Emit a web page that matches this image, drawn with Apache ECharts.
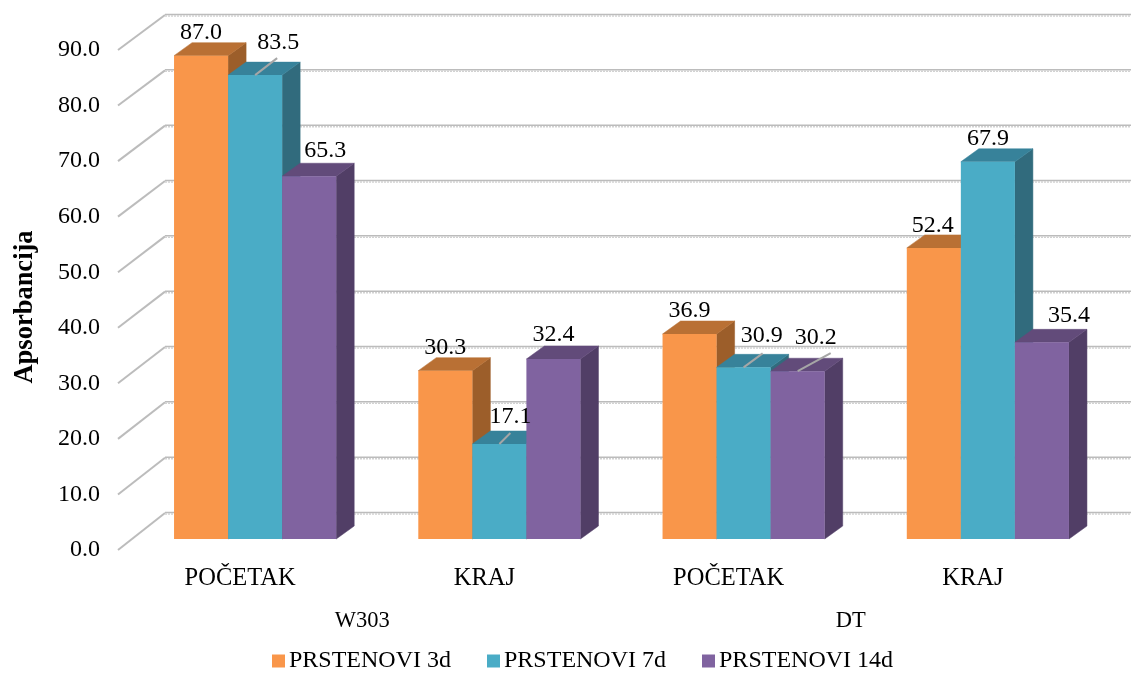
<!DOCTYPE html>
<html><head><meta charset="utf-8">
<style>html,body{margin:0;padding:0;background:#fff}#c{width:1131px;height:673px}</style>
<script src="https://cdn.jsdelivr.net/npm/echarts@6/dist/echarts.min.js"></script>
</head><body><div id="c"></div>
<script>
const categories = ['POČETAK', 'KRAJ', 'POČETAK', 'KRAJ'];
const groups = ['W303', 'DT'];
const seriesNames = ['PRSTENOVI 3d', 'PRSTENOVI 7d', 'PRSTENOVI 14d'];
const values3d = [87.0, 30.3, 36.9, 52.4];
const values7d = [83.5, 17.1, 30.9, 67.9];
const values14d = [65.3, 32.4, 30.2, 35.4];
const ticks = [0, 10, 20, 30, 40, 50, 60, 70, 80, 90];

const FONT = '"Liberation Serif","Times New Roman",serif';
const palette = [
  {front: '#F9964A', top: '#B97034', side: '#9C5E2A'},
  {front: '#4AACC6', top: '#37829A', side: '#316B7D'},
  {front: '#8063A0', top: '#624B7A', side: '#513E66'}
];
const BAR = 0.2213, SHIFT = 15, DX = 18, DY = 13, LIFT = 11;
const WALL_DX = 47, WALL_DY = 37;
// label placement relative to the top-centre of each bar: [dx, dy, leader end dx, leader end dy]
const labelPlace = [
  [[0, -23], [0, -23], [0, -23], [-1, -22]],
  [[23, -32, 22, -17], [11, -27, 11, -11], [18, -32, 19, -14], [0, -23]],
  [[16, -26], [0, -24], [18, -34, 33, -18], [27, -27]]
];

function barGeom(api, s) {
  const p = api.coord([api.value(0), api.value(1)]);
  const base = api.coord([api.value(0), 0]);
  const w = api.size([1, 0])[0] * BAR;
  const x0 = p[0] + SHIFT + (s - 1.5) * w;
  return {x0, x1: x0 + w, y: p[1] - LIFT, b: base[1] - LIFT, w};
}
function barItem(s) {
  return (params, api) => {
    const g = barGeom(api, s), c = palette[s];
    const poly = (pts, fill) => ({type: 'polygon', shape: {points: pts},
      style: {fill, stroke: fill, lineWidth: 0.5}});
    return {type: 'group', children: [
      poly([[g.x1, g.y], [g.x1 + DX, g.y - DY], [g.x1 + DX, g.b - DY], [g.x1, g.b]], c.side),
      poly([[g.x0, g.y], [g.x0 + DX, g.y - DY], [g.x1 + DX, g.y - DY], [g.x1, g.y]], c.top),
      {type: 'rect', shape: {x: g.x0, y: g.y, width: g.w, height: g.b - g.y},
        style: {fill: c.front}}
    ]};
  };
}
function labelItem(s) {
  return (params, api) => {
    const g = barGeom(api, s);
    const place = labelPlace[s][params.dataIndex];
    const cx = g.x0 + g.w / 2, children = [];
    if (place.length > 2) {
      children.push({type: 'line',
        shape: {x1: cx, y1: g.y, x2: cx + place[2], y2: g.y + place[3]},
        style: {stroke: '#a6a6a6', lineWidth: 2}});
    }
    children.push({type: 'text', style: {
      text: api.value(1).toFixed(1), x: cx + place[0], y: g.y + place[1],
      align: 'center', verticalAlign: 'middle', fill: '#000',
      font: '24px ' + FONT}});
    return {type: 'group', children};
  };
}
function gridItem(params, api) {
  const v = api.value(0);
  const front = api.coord([0, v]);
  const cs = params.coordSys;
  const fx = cs.x, fy = front[1];
  const bx = fx + WALL_DX, by = front[1] - WALL_DY + 2 * v / 90;
  return {type: 'group', children: [
    {type: 'line', shape: {x1: fx, y1: fy, x2: bx, y2: by},
      style: {stroke: '#bcbcbc', lineWidth: 2}},
    {type: 'line', shape: {x1: bx, y1: by - 0.5, x2: 1131, y2: by - 0.5},
      style: {stroke: '#bcbcbc', lineWidth: 1.5}},
    {type: 'line', shape: {x1: bx, y1: by + 1, x2: 1131, y2: by + 1},
      style: {stroke: '#d2d2d2', lineWidth: 1.5, lineDash: [2, 1]}}
  ]};
}
const allValues = [values3d, values7d, values14d];
const rows = a => a.map((v, i) => [i, v]);
const series = [{
  type: 'custom', name: 'grid', z: 1, silent: true, xAxisIndex: 0,
  data: ticks.map(t => [t]), encode: {x: -1, y: 0}, renderItem: gridItem
}];
allValues.forEach((vals, s) => series.push({
  type: 'custom', name: seriesNames[s], z: 2 + s, xAxisIndex: 0,
  itemStyle: {color: palette[s].front},
  data: rows(vals), encode: {x: 0, y: 1}, renderItem: barItem(s)
}));
allValues.forEach((vals, s) => series.push({
  type: 'custom', name: 'labels' + s, z: 10, silent: true, xAxisIndex: 0,
  data: rows(vals), encode: {x: 0, y: 1}, renderItem: labelItem(s)
}));

const textStyle = {fontFamily: FONT, fontSize: 24.5, color: '#000'};
const chart = echarts.init(document.getElementById('c'), null, {renderer: 'canvas'});
chart.setOption({
  animation: false,
  backgroundColor: '#fff',
  grid: {left: 118, top: 50, width: 977, height: 500, containLabel: false, outerBoundsMode: 'none'},
  legend: {
    data: seriesNames, left: 267, top: 644, icon: 'rect',
    itemWidth: 13, itemHeight: 13, itemGap: 36,
    textStyle: Object.assign({}, textStyle, {fontSize: 24, padding: [0, 0, 0, -1]})
  },
  xAxis: [
    {type: 'category', data: categories, position: 'bottom',
      axisLine: {show: false}, axisTick: {show: false}, splitLine: {show: false},
      axisLabel: Object.assign({}, textStyle, {margin: 16, interval: 0})},
    {type: 'category', data: groups, position: 'bottom', offset: 41,
      axisLine: {show: false}, axisTick: {show: false}, splitLine: {show: false},
      axisLabel: Object.assign({}, textStyle, {fontSize: 22.5, margin: 19, interval: 0})}
  ],
  yAxis: {
    type: 'value', min: 0, max: 90, interval: 10,
    name: 'Apsorbancija', nameLocation: 'middle', nameGap: 79, nameRotate: 90,
    nameTextStyle: {fontFamily: FONT, fontSize: 26.5, fontWeight: 'bold', color: '#000', padding: [0, 14, 0, 0]},
    axisLine: {show: false}, axisTick: {show: false}, splitLine: {show: false},
    axisLabel: {fontFamily: FONT, fontSize: 24, color: '#000', margin: 18,
      formatter: v => v.toFixed(1)}
  },
  series
});
</script></body></html>
